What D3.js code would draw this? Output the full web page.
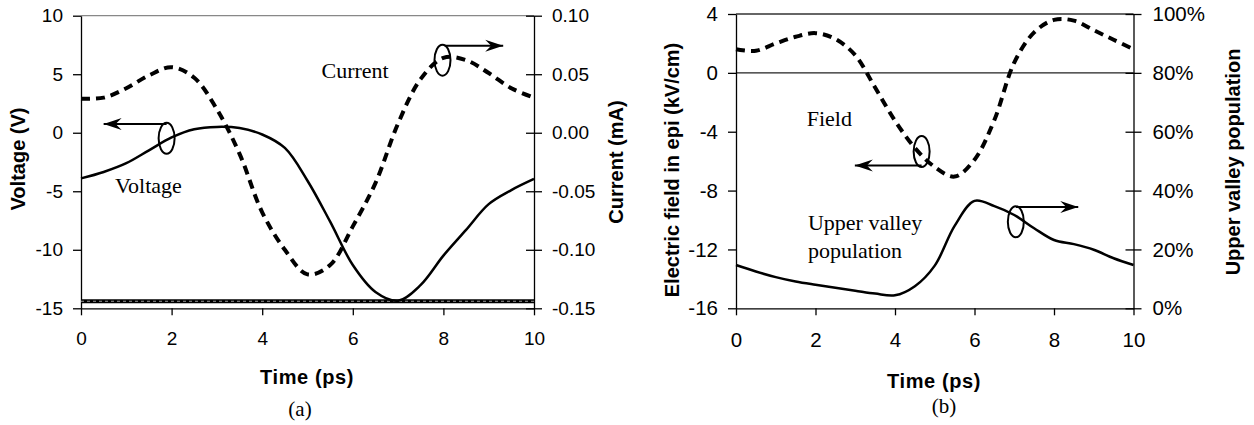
<!DOCTYPE html>
<html>
<head>
<meta charset="utf-8">
<script src="https://cdn.jsdelivr.net/npm/d3@7"></script>
<style>
    body { margin: 0; background: #fff; }
    svg text { font-family: Arial, "Liberation Sans", sans-serif; fill: #000; }
    svg .serif { font-family: "Times New Roman", "Liberation Serif", serif; }
    .axis path, .axis line { stroke: #000; stroke-width: 1.3; }
</style>
</head>
<body>
<svg id="chart"></svg>
<script>
// ---- data ----
const time = [0, 0.5, 1, 1.5, 2, 2.5, 3, 3.5, 4, 4.5, 5, 5.5, 6, 6.5, 7, 7.5, 8, 8.5, 9, 9.5, 10];
// panel (a)
const voltage = [-3.9, -3.35, -2.6, -1.5, -0.4, 0.3, 0.5, 0.4, -0.15, -1.3, -4.1, -7.6, -11.3, -13.6, -14.35, -13.0, -10.5, -8.3, -6.1, -4.9, -3.95];
const current = [0.029, 0.030, 0.038, 0.049, 0.056, 0.047, 0.020, -0.018, -0.068, -0.100, -0.121, -0.113, -0.080, -0.043, 0.008, 0.046, 0.064, 0.062, 0.051, 0.038, 0.030];
const floorTime = [0, 10];
const floorVoltage = [-14.4, -14.4];
// panel (b)
const field = [1.6, 1.5, 2.0, 2.45, 2.7, 2.3, 1.2, -1.0, -3.25, -5.1, -6.4, -7.05, -5.9, -3.2, 0.7, 2.75, 3.6, 3.55, 2.9, 2.25, 1.6];
const upperPop = [0.147, 0.125, 0.106, 0.091, 0.080, 0.070, 0.060, 0.050, 0.044, 0.075, 0.145, 0.28, 0.365, 0.347, 0.317, 0.272, 0.232, 0.218, 0.199, 0.170, 0.147];
// ticks
const timeTicks = [0, 2, 4, 6, 8, 10];
const voltTicks = [-15, -10, -5, 0, 5, 10];
const currTicks = [-0.15, -0.10, -0.05, 0, 0.05, 0.10];
const fieldTicks = [-16, -12, -8, -4, 0, 4];
const popTicks = [0, 0.2, 0.4, 0.6, 0.8, 1];

const W = 1254, H = 425;
const svg = d3.select('#chart').attr('width', W).attr('height', H)
    .attr('viewBox', `0 0 ${W} ${H}`);
svg.append('rect').attr('width', W).attr('height', H).attr('fill', '#fff');

// arrow head
svg.append('defs').append('marker')
    .attr('id', 'head')
    .attr('markerUnits', 'userSpaceOnUse')
    .attr('viewBox', '-20 -8 22 16')
    .attr('markerWidth', 22).attr('markerHeight', 16)
    .attr('refX', 0).attr('refY', 0)
    .attr('orient', 'auto')
    .append('path')
    .attr('d', 'M0,0 L-18,-6 L-12,0 L-18,6 Z')
    .attr('fill', '#000');

// plain hyphen minus, like the original figure
const intFmt = d => String(d);
const fixFmt = d => d.toFixed(2);
const pctFmt = d => Math.round(d * 100) + '%';

function drawPanel(cfg) {
    const x = d3.scaleLinear().domain([0, 10]).range([cfg.left, cfg.right]);
    const yL = d3.scaleLinear().domain(cfg.leftDomain).range([cfg.bottom, cfg.top]);
    const yR = d3.scaleLinear().domain(cfg.rightDomain).range([cfg.bottom, cfg.top]);
    const g = svg.append('g');

    //frame top and extra grid lines
    g.append('line')
        .attr('x1', cfg.left).attr('x2', cfg.right)
        .attr('y1', cfg.top).attr('y2', cfg.top)
        .attr('stroke', cfg.topColor).attr('stroke-width', 1.3);
    (cfg.grid || []).forEach(v => {
        g.append('line')
            .attr('x1', cfg.left).attr('x2', cfg.right)
            .attr('y1', yL(v)).attr('y2', yL(v))
            .attr('stroke', '#222').attr('stroke-width', 1.2);
    });

    //axes
    g.append('g').attr('class', 'axis')
        .attr('transform', `translate(0,${cfg.bottom})`)
        .call(d3.axisBottom(x).tickValues(timeTicks).tickFormat(intFmt).tickSize(7).tickSizeOuter(0).tickPadding(cfg.xPad))
        .call(a => a.selectAll('text').attr('font-size', cfg.tickFont));
    g.append('g').attr('class', 'axis')
        .attr('transform', `translate(${cfg.left},0)`)
        .call(d3.axisLeft(yL).tickValues(cfg.leftTicks).tickFormat(cfg.leftFormat).tickSize(8).tickSizeOuter(0).tickPadding(10))
        .call(a => a.selectAll('text').attr('font-size', cfg.tickFont));
    g.append('g').attr('class', 'axis')
        .attr('transform', `translate(${cfg.right},0)`)
        .call(d3.axisRight(yR).tickValues(cfg.rightTicks).tickFormat(cfg.rightFormat).tickSize(8).tickSizeOuter(0).tickPadding(cfg.rightPad))
        .call(a => a.selectAll('.tick line').attr('x1', -8))
        .call(a => a.selectAll('text').attr('font-size', cfg.tickFont));

    //axis titles
    const title = (tx, ty, rot, str) => g.append('text')
        .attr('transform', `translate(${tx},${ty}) rotate(${rot})`)
        .attr('text-anchor', 'middle').attr('dy', '0.35em')
        .attr('font-size', 20).attr('font-weight', 'bold')
        .text(str);
    title(cfg.xTitle[0], cfg.xTitle[1], 0, 'Time (ps)').attr('letter-spacing', 0.6);
    title(cfg.lTitle[0], cfg.lTitle[1], -90, cfg.lTitle[2]);
    title(cfg.rTitle[0], cfg.rTitle[1], -90, cfg.rTitle[2]);

    g.append('text').attr('class', 'serif')
        .attr('x', cfg.caption[0]).attr('y', cfg.caption[1])
        .attr('text-anchor', 'middle').attr('dy', '0.35em')
        .attr('font-size', 21).text(cfg.caption[2]);

    return {g, x, yL, yR};
}

function curve(g, xs, ys, x, y, width, dash) {
    const line = d3.line()
        .x((d, i) => x(xs[i]))
        .y(d => y(d))
        .curve(d3.curveCatmullRom.alpha(0.5));
    return g.append('path')
        .attr('d', line(ys))
        .attr('fill', 'none')
        .attr('stroke', '#000')
        .attr('stroke-width', width)
        .attr('stroke-dasharray', dash || null);
}

function callout(g, cx, cy, ax, ay, tipX) {
    g.append('ellipse').attr('cx', cx).attr('cy', cy).attr('rx', 8).attr('ry', 15.5)
        .attr('fill', 'none').attr('stroke', '#000').attr('stroke-width', 2);
    g.append('line').attr('x1', ax).attr('y1', ay).attr('x2', tipX).attr('y2', ay)
        .attr('stroke', '#000').attr('stroke-width', 2)
        .attr('marker-end', 'url(#head)');
}

function label(g, lx, ly, lines) {
    const t = g.append('text').attr('class', 'serif').attr('font-size', 22);
    lines.forEach((s, i) => t.append('tspan').attr('x', lx).attr('y', ly + i * 28).attr('dy', '0.35em').text(s));
}

// ---- panel (a) ----
const a = drawPanel({
    left: 81, right: 534, top: 15.7, bottom: 308.3,
    leftDomain: [-15, 10], rightDomain: [-0.15, 0.10],
    leftTicks: voltTicks, rightTicks: currTicks,
    leftFormat: intFmt, rightFormat: fixFmt,
    tickFont: 19, xPad: 16, rightPad: 10,
    topColor: '#888',
    xTitle: [307, 377], lTitle: [18, 159, 'Voltage (V)'], rTitle: [616, 162, 'Current (mA)'],
    caption: [300, 409, '(a)']
});
curve(a.g, floorTime, floorVoltage, a.x, a.yL, 4);
curve(a.g, floorTime, floorVoltage, a.x, a.yL, 1, '3,3').attr('stroke', '#999');
curve(a.g, time, voltage, a.x, a.yL, 2.5);
curve(a.g, time, current, a.x, a.yR, 4, '9,6');
callout(a.g, a.x(1.89), a.yL(-0.48), a.x(1.89), a.yL(0.74), a.x(0.5));
callout(a.g, a.x(7.98), a.yR(0.062), a.x(8.03), a.yR(0.0744), a.x(9.32));
label(a.g, a.x(0.75), a.yL(-4.47), ['Voltage']);
label(a.g, a.x(5.31), a.yR(0.0536), ['Current']);

// ---- panel (b) ----
const b = drawPanel({
    left: 736, right: 1133.5, top: 14, bottom: 308.3,
    leftDomain: [-16, 4], rightDomain: [0, 1],
    leftTicks: fieldTicks, rightTicks: popTicks,
    leftFormat: intFmt, rightFormat: pctFmt,
    tickFont: 20.5, xPad: 17, rightPad: 11,
    topColor: '#333', grid: [0],
    xTitle: [934, 381], lTitle: [672, 170, 'Electric field in epi (kV/cm)'], rTitle: [1233, 162, 'Upper valley population'],
    caption: [944, 406, '(b)']
});
curve(b.g, time, field, b.x, b.yL, 4, '9,6');
curve(b.g, time, upperPop, b.x, b.yR, 2.5);
callout(b.g, b.x(4.67), b.yL(-5.35), b.x(4.67), b.yL(-6.3), b.x(2.99));
callout(b.g, b.x(7.04), b.yR(0.294), b.x(7.04), b.yR(0.344), b.x(8.61));
label(b.g, b.x(1.78), b.yL(-3.06), ['Field']);
label(b.g, b.x(1.81), b.yL(-10.15), ['Upper valley', 'population']);
</script>
</body>
</html>
